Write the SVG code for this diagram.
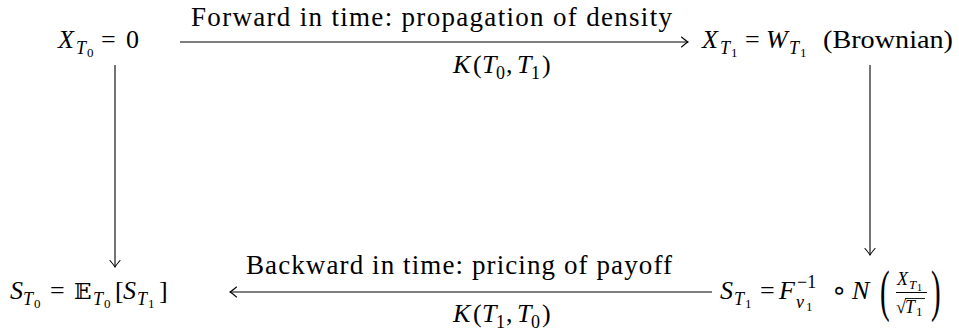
<svg xmlns="http://www.w3.org/2000/svg" width="959" height="333" viewBox="0 0 959 333">
<defs>
<style>
text{font-family:'Liberation Serif','Times New Roman',serif;fill:#000;font-size:26px}
.i{font-style:italic}
.s{font-size:18px}
.ss{font-size:13px}
.sss{font-size:10px}
.lbl{font-size:27px}
.big{font-size:58px}
.bb{font-family:'DejaVu Serif','DejaVu Sans',serif;font-size:23px}
.op{font-family:'DejaVu Sans',sans-serif;font-size:26px}
.ln{stroke:#000;stroke-width:1.1;fill:none}
</style>
<marker id="to" viewBox="-8 -6 10 12" markerWidth="10" markerHeight="12" refX="0" refY="0" orient="auto" markerUnits="userSpaceOnUse">
<path d="M-6.5,-5 Q-2,-1.2 0,0 Q-2,1.2 -6.5,5" fill="none" stroke="#000" stroke-width="1.1" stroke-linecap="round"/>
</marker>
</defs>
<rect width="959" height="333" fill="#fff"/>

<g id="connectors">
<line class="ln" x1="180" y1="42" x2="688" y2="42" marker-end="url(#to)"/>
<line class="ln" x1="712" y1="292" x2="230" y2="292" marker-end="url(#to)"/>
<line class="ln" x1="115" y1="65" x2="115" y2="267" marker-end="url(#to)"/>
<line class="ln" x1="870" y1="65" x2="870" y2="255" marker-end="url(#to)"/>
<text class="lbl" x="191" y="26" textLength="481" lengthAdjust="spacing">Forward in time:  propagation of density</text>
<g id="k01">
<text class="i" x="453" y="73">K</text><text x="473" y="73">(</text><text class="i" x="482" y="73">T</text><text class="s" x="496" y="79">0</text><text x="506" y="73">,</text><text class="i" x="517" y="73">T</text><text class="s" x="531" y="79">1</text><text x="542" y="73">)</text>
</g>
<text class="lbl" x="246" y="274" textLength="426" lengthAdjust="spacing">Backward in time:  pricing of payoff</text>
<g id="k10">
<text class="i" x="453" y="322">K</text><text x="473" y="322">(</text><text class="i" x="482" y="322">T</text><text class="s" x="496" y="328">1</text><text x="506" y="322">,</text><text class="i" x="517" y="322">T</text><text class="s" x="531" y="328">0</text><text x="542" y="322">)</text>
</g>
</g>

<g id="n-x0">
<text class="i" x="58" y="48">X</text>
<text class="i s" x="76" y="54">T</text><text class="ss" x="87" y="57">0</text>
<text x="101" y="48">=</text>
<text x="126" y="48">0</text>
</g>

<g id="n-x1">
<text class="i" x="702" y="48">X</text>
<text class="i s" x="720" y="54">T</text><text class="ss" x="731" y="57">1</text>
<text x="745" y="48">=</text>
<text class="i" x="766" y="48">W</text>
<text class="i s" x="789" y="54">T</text><text class="ss" x="800" y="57">1</text>
<text x="823" y="48" textLength="130" lengthAdjust="spacingAndGlyphs">(Brownian)</text>
</g>

<g id="n-s0">
<text class="i" x="10" y="299">S</text>
<text class="i s" x="23" y="305">T</text><text class="ss" x="34" y="308">0</text>
<text x="50" y="299">=</text>
<text class="bb" x="74" y="299">𝔼</text>
<text class="i s" x="93" y="305">T</text><text class="ss" x="104" y="308">0</text>
<text x="115" y="299">[</text>
<text class="i" x="123" y="299">S</text>
<text class="i s" x="137" y="305">T</text><text class="ss" x="148" y="308">1</text>
<text x="159" y="299">]</text>
</g>

<g id="n-s1">
<text class="i" x="720" y="299">S</text>
<text class="i s" x="734" y="305">T</text><text class="ss" x="745" y="308">1</text>
<text x="760" y="299">=</text>
<text class="i" x="779" y="299">F</text>
<text class="s" x="797" y="288">−1</text>
<text class="i s" x="796" y="308">ν</text><text class="ss" x="806" y="311">1</text>
<text class="op" x="831" y="299">∘</text>
<text class="i" x="852" y="299">N</text>
<text class="big" x="880" y="310" transform="translate(880 310) scale(0.5 1) translate(-880 -310)">(</text>
<text class="i s" x="897" y="285">X</text>
<text class="i ss" x="909" y="289">T</text><text class="sss" x="917" y="291">1</text>
<line x1="896" y1="292.5" x2="927" y2="292.5" stroke="#000" stroke-width="1"/>
<text class="s" x="896" y="313">√</text>
<line x1="905" y1="298.5" x2="925" y2="298.5" stroke="#000" stroke-width="0.9"/>
<text class="i s" x="905" y="313">T</text><text class="ss" x="916" y="316">1</text>
<text class="big" x="931" y="310" transform="translate(931 310) scale(0.5 1) translate(-931 -310)">)</text>
</g>
</svg>
